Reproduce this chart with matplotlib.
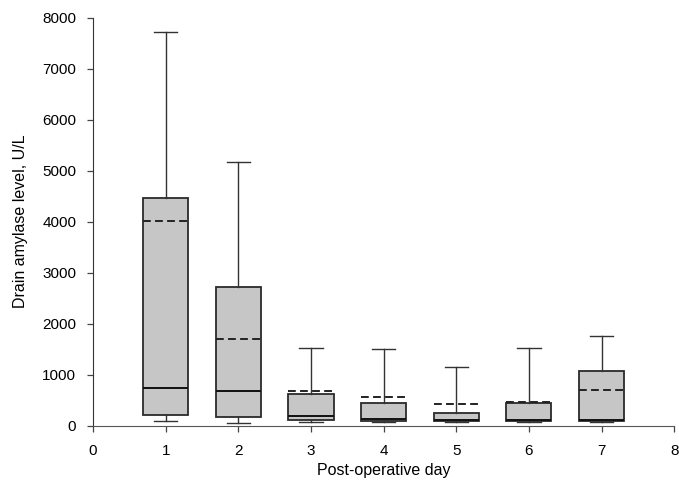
import matplotlib
matplotlib.use("Agg")
import matplotlib.pyplot as plt

plt.rcParams['font.family'] = ['Liberation Sans', 'DejaVu Sans']

days = [1, 2, 3, 4, 5, 6, 7]
whis_hi = [7720, 5180, 1520, 1510, 1150, 1530, 1765]
q3 = [4470, 2710, 610, 450, 255, 450, 1075]
means = [4020, 1705, 675, 565, 420, 455, 695]
medians = [735, 670, 180, 130, 100, 105, 100]
q1 = [200, 165, 100, 80, 80, 80, 80]
whis_lo = [80, 55, 75, 60, 60, 60, 60]

stats = []
for i in range(len(days)):
    stats.append({
        'med': medians[i], 'q1': q1[i], 'q3': q3[i],
        'whislo': whis_lo[i], 'whishi': whis_hi[i],
        'mean': means[i], 'fliers': [],
    })

fig = plt.figure(figsize=(6.79, 4.9), dpi=100)
ax = fig.add_axes([0.137, 0.1316, 0.856, 0.832])

ax.bxp(stats, positions=days, widths=0.62, capwidths=0.32,
       patch_artist=True, showmeans=True, meanline=True, showfliers=False,
       boxprops=dict(facecolor='#c6c6c6', edgecolor='#2a2a2a', linewidth=1.3),
       medianprops=dict(color='#111111', linewidth=1.4),
       meanprops=dict(color='#222222', linestyle=(0, (4, 2.2)), linewidth=1.4),
       whiskerprops=dict(color='#333333', linewidth=1.0),
       capprops=dict(color='#333333', linewidth=1.0))

ax.set_xlim(0, 8)
ax.set_ylim(0, 8000)
ax.set_xticks(range(0, 9))
ax.set_xticklabels([str(d) for d in range(0, 9)])
ax.set_yticks(range(0, 8001, 1000))
ax.spines['top'].set_visible(False)
ax.spines['right'].set_visible(False)
ax.spines['left'].set_color('#333333')
ax.spines['bottom'].set_color('#555555')
ax.tick_params(axis='both', labelsize=11, length=4, color='#444444', width=0.9)
ax.tick_params(axis='x', pad=9)
ax.tick_params(axis='y', pad=8)

ax.set_xlabel('Post-operative day', fontsize=11.5, labelpad=4)
ax.set_ylabel('Drain amylase level, U/L', fontsize=11.5, labelpad=10)

fig.savefig('out.png', dpi=100)
